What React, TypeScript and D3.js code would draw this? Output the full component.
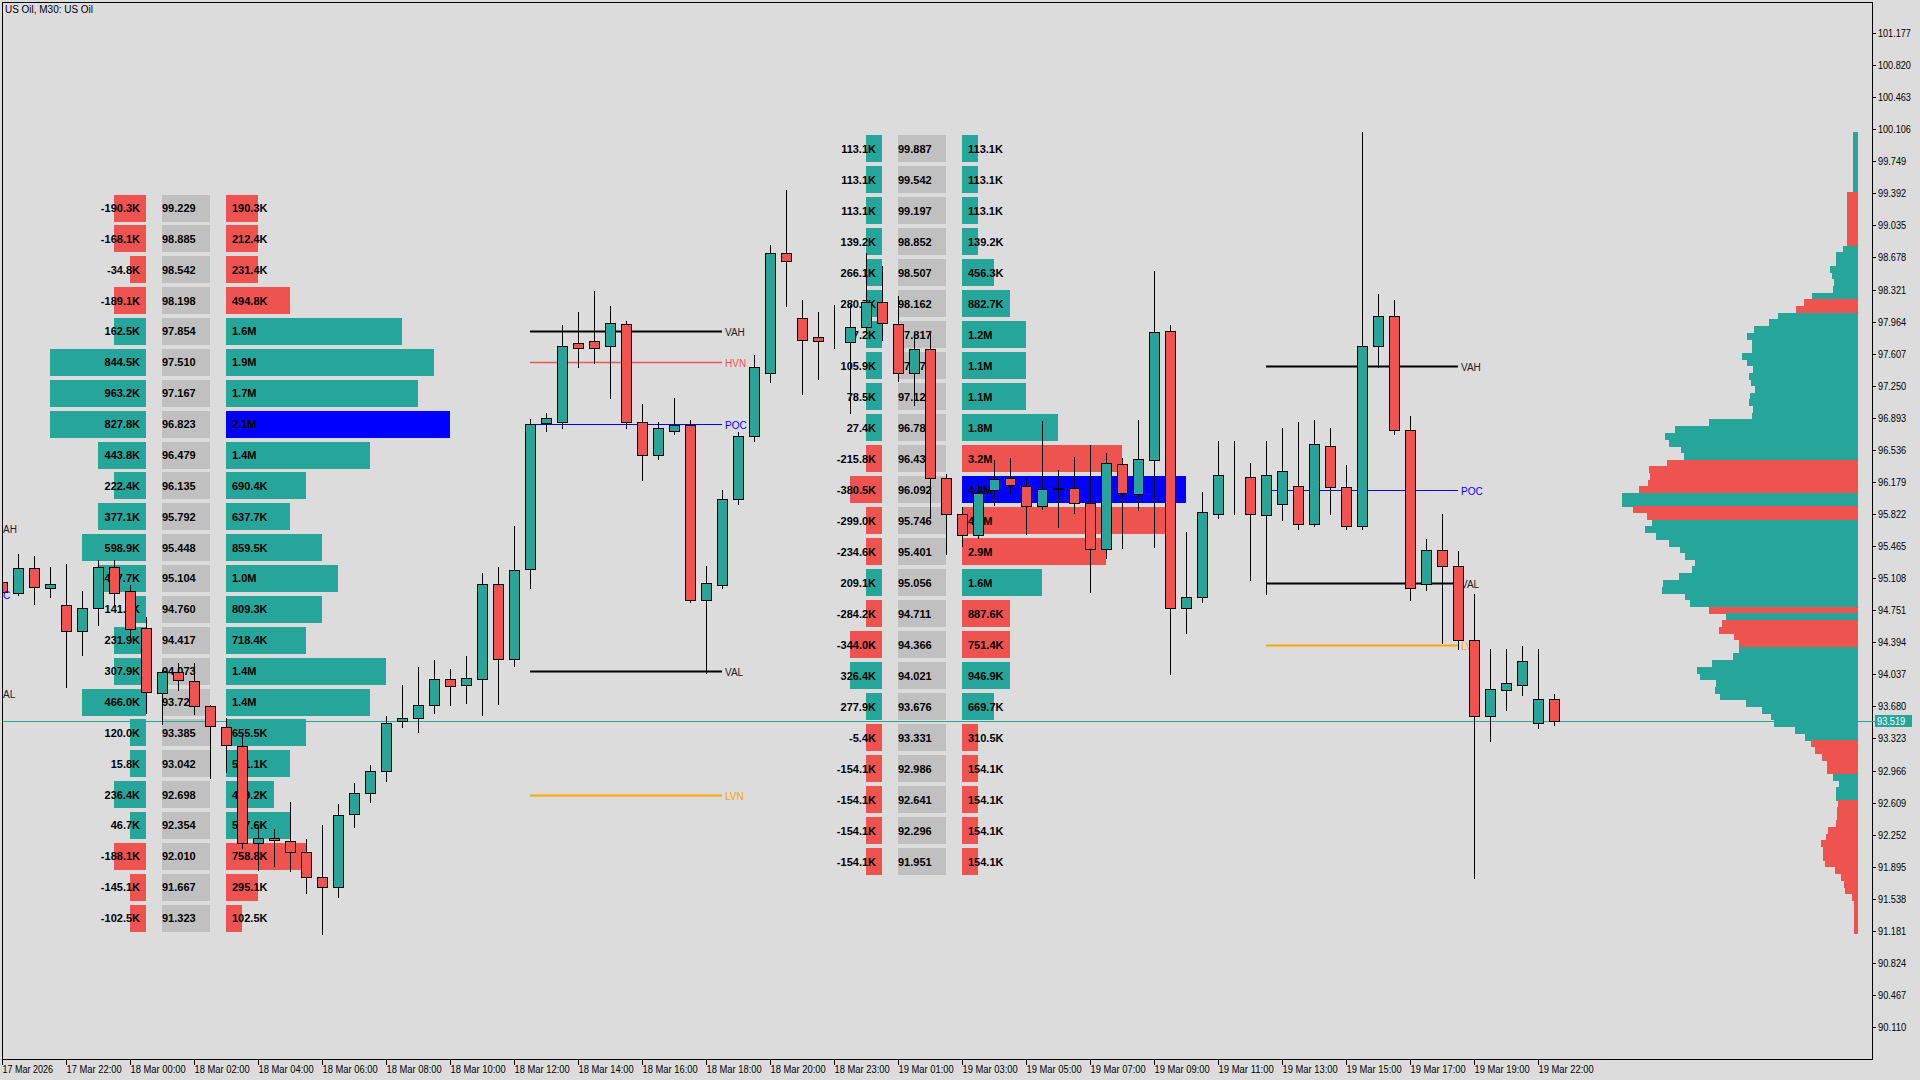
import React from 'react';
import * as d3 from 'd3';

const TEAL = '#26a69a';
const RED = '#ef5350';
const BLUE = '#0000ff';
const ORANGE = '#ffa500';
const BG = '#dcdcdc';
const GRAY = '#c0c0c0';
const FONT = '"Liberation Sans", Arial, sans-serif';

const title = 'US Oil, M30:  US Oil';

const timeLabels = [
  '17 Mar 2026', '17 Mar 22:00', '18 Mar 00:00', '18 Mar 02:00', '18 Mar 04:00', '18 Mar 06:00',
  '18 Mar 08:00', '18 Mar 10:00', '18 Mar 12:00', '18 Mar 14:00', '18 Mar 16:00', '18 Mar 18:00',
  '18 Mar 20:00', '18 Mar 23:00', '19 Mar 01:00', '19 Mar 03:00', '19 Mar 05:00', '19 Mar 07:00',
  '19 Mar 09:00', '19 Mar 11:00', '19 Mar 13:00', '19 Mar 15:00', '19 Mar 17:00', '19 Mar 19:00',
  '19 Mar 22:00',
];

const priceTicks = [
  '101.177', '100.820', '100.463', '100.106', '99.749', '99.392', '99.035', '98.678', '98.321',
  '97.964', '97.607', '97.250', '96.893', '96.536', '96.179', '95.822', '95.465', '95.108',
  '94.751', '94.394', '94.037', '93.680', '93.323', '92.966', '92.609', '92.252', '91.895',
  '91.538', '91.181', '90.824', '90.467', '90.110',
];

const lastPrice = 93.519;

// OHLC, one value per M30 bar
const open = [
  95.06, 94.946, 95.217, 94.995, 94.812, 94.515, 94.771, 95.228, 94.964, 94.549,
  93.826, 94.066, 93.966, 93.688, 93.454, 93.242, 92.156, 92.211, 92.185, 92.062,
  91.784, 91.673, 92.479, 92.712, 92.957, 93.521, 93.547, 93.692, 93.981, 93.914,
  93.988, 95.038, 94.211, 95.205, 96.83, 96.843, 97.729, 97.743, 97.688, 97.933,
  96.843, 96.475, 96.748, 96.816, 94.867, 95.03, 95.984, 96.693, 97.388, 98.724,
  98.001, 97.796, 97.735, 97.74, 97.9, 98.186, 97.933, 97.388, 97.655, 96.219,
  95.822, 95.588, 96.089, 96.219, 96.137, 95.911, 96.1, 96.108, 95.941, 95.429,
  96.375, 96.04, 96.423, 97.856, 94.772, 94.894, 95.82, 96.24, 96.23, 95.807,
  95.93, 96.134, 95.712, 96.584, 96.121, 95.685, 97.688, 98.029, 96.761, 95.044,
  95.426, 95.248, 94.417, 93.572, 93.858, 93.913, 93.49, 93.763,
];
const high = [
  95.12, 95.376, 95.354, 95.228, 95.265, 94.964, 95.309, 95.309, 95.03, 94.672,
  94.08, 94.16, 94.16, 93.69, 93.547, 93.38, 92.322, 92.316, 92.62, 92.2,
  92.36, 92.593, 92.823, 93.027, 93.573, 93.918, 94.122, 94.196, 94.096, 94.241,
  95.161, 95.228, 95.688, 96.88, 96.95, 97.93, 98.07, 98.301, 98.138, 97.974,
  97.047, 96.843, 97.115, 96.87, 95.248, 96.093, 96.734, 97.593, 98.819, 99.432,
  98.206, 98.07, 98.149, 98.149, 98.725, 98.583, 98.249, 97.834, 97.834, 96.267,
  95.9, 96.15, 96.423, 96.442, 96.207, 96.857, 96.312, 96.453, 96.59, 96.498,
  96.45, 96.868, 98.527, 97.926, 95.618, 96.07, 96.639, 96.64, 96.393, 96.639,
  96.775, 96.843, 96.87, 96.775, 96.366, 100.073, 98.274, 98.206, 96.911, 95.548,
  95.821, 95.412, 94.935, 94.322, 94.322, 94.349, 94.322, 93.817,
];
const low = [
  94.9, 94.92, 94.82, 94.901, 93.899, 94.255, 94.589, 94.82, 94.46, 93.61,
  93.48, 93.862, 93.6, 92.886, 92.953, 92.1, 91.859, 91.903, 91.85, 91.606,
  91.146, 91.554, 92.334, 92.62, 92.853, 93.447, 93.398, 93.61, 93.695, 93.721,
  93.587, 93.71, 94.129, 95.001, 96.75, 96.775, 97.456, 97.5, 97.115, 96.775,
  96.202, 96.434, 96.707, 94.839, 94.049, 95.003, 95.93, 96.639, 97.293, 98.138,
  97.156, 97.32, 97.674, 96.947, 97.834, 97.76, 97.306, 97.035, 95.79, 95.373,
  95.469, 95.55, 95.92, 96.05, 95.596, 95.88, 95.681, 95.836, 94.957, 95.329,
  95.44, 95.866, 95.458, 94.037, 94.494, 94.846, 95.78, 95.82, 95.085, 94.935,
  95.753, 95.657, 95.685, 95.821, 95.657, 95.657, 97.456, 96.707, 94.867, 94.976,
  94.39, 94.322, 91.773, 93.299, 93.64, 93.804, 93.436, 93.477,
];
const close = [
  94.95, 95.217, 95.012, 95.038, 94.515, 94.771, 95.228, 94.946, 94.545, 93.837,
  94.059, 93.974, 93.688, 93.461, 93.25, 92.156, 92.211, 92.19, 92.062, 91.784,
  91.673, 92.468, 92.712, 92.957, 93.492, 93.547, 93.695, 93.981, 93.907, 93.996,
  95.038, 94.211, 95.198, 96.829, 96.89, 97.688, 97.674, 97.674, 97.947, 96.843,
  96.475, 96.775, 96.816, 94.867, 95.058, 95.984, 96.693, 97.456, 98.724, 98.642,
  97.756, 97.748, 97.74, 97.9, 98.186, 97.945, 97.388, 97.655, 96.219, 95.822,
  95.588, 96.06, 96.207, 96.145, 95.911, 96.097, 96.11, 95.941, 95.429, 96.386,
  96.052, 96.431, 97.845, 94.772, 94.894, 95.84, 96.257, 96.245, 95.821, 96.257,
  96.298, 95.712, 96.598, 96.121, 95.685, 97.688, 98.029, 96.761, 95.003, 95.426,
  95.248, 94.417, 93.572, 93.872, 93.94, 94.185, 93.763, 93.519,
];

// Profile 1 (18 Mar)
const p1Prices = [
  99.229, 98.885, 98.542, 98.198, 97.854, 97.51, 97.167, 96.823, 96.479, 96.135, 95.792, 95.448,
  95.104, 94.76, 94.417, 94.073, 93.729, 93.385, 93.042, 92.698, 92.354, 92.01, 91.667, 91.323,
];
const p1Delta = [
  -190.3, -168.1, -34.8, -189.1, 162.5, 844.5, 963.2, 827.8, 443.8, 222.4, 377.1, 598.9,
  447.7, 141.0, 231.9, 307.9, 466.0, 120.0, 15.8, 236.4, 46.7, -188.1, -145.1, -102.5,
];
const p1Volume = [
  190.3, 212.4, 231.4, 494.8, 1600, 1900, 1700, 2100, 1360, 690.4, 637.7, 859.5,
  1000, 809.3, 718.4, 1410, 1360, 655.5, 541.1, 409.2, 547.6, 758.8, 295.1, 102.5,
];
const p1StartBar = 0;
const p1LevelNames = ['VAH', 'HVN', 'POC', 'VAL', 'LVN'];
const p1LevelPrices = [97.854, 97.51, 96.823, 94.073, 92.698];

// Profile 2 (19 Mar)
const p2Prices = [
  99.887, 99.542, 99.197, 98.852, 98.507, 98.162, 97.817, 97.472, 97.127, 96.782, 96.437, 96.092,
  95.746, 95.401, 95.056, 94.711, 94.366, 94.021, 93.676, 93.331, 92.986, 92.641, 92.296, 91.951,
];
const p2Delta = [
  113.1, 113.1, 113.1, 139.2, 266.1, 280.7, 97.2, 105.9, 78.5, 27.4, -215.8, -380.5,
  -299.0, -234.6, 209.1, -284.2, -344.0, 326.4, 277.9, -5.4, -154.1, -154.1, -154.1, -154.1,
];
const p2Volume = [
  113.1, 113.1, 113.1, 139.2, 456.3, 882.7, 1200, 1100, 1100, 1800, 3200, 4400,
  4100, 2900, 1600, 887.6, 751.4, 946.9, 669.7, 310.5, 154.1, 154.1, 154.1, 154.1,
];
const p2StartBar = 46;
const p2LevelNames = ['VAH', 'POC', 'VAL', 'LVN'];
const p2LevelPrices = [97.472, 96.092, 95.056, 94.366];

// previous session level labels, only their visible ends show at the left edge
const prevLevelTexts = ['AH', 'C', 'AL'];
const prevLevelPrices = [95.655, 94.92, 93.818];

// visible-range volume histogram, top (high) to bottom (low), 120 rows
const histVolume = [
  5, 5, 5, 5, 5, 5, 5, 5, 5,
  11, 11, 11, 11, 11, 11, 11, 11,
  15, 22, 22, 28, 26, 24, 25, 46,
  54, 62,
  80, 89, 104, 111, 106, 106, 116, 111, 105, 109, 107, 103, 108, 109, 105, 106, 149, 183, 193, 189, 177, 174,
  191, 209, 208, 210, 219,
  236, 236,
  225, 211,
  206, 213, 202, 189, 178, 173, 163, 166, 179, 195, 196, 173, 168,
  149,
  132,
  136, 139, 124, 119,
  119, 125, 146, 161, 158, 142, 143, 138, 112, 96, 87, 84, 63, 53,
  47, 43, 36, 31, 31,
  25, 19, 22, 22,
  20, 21, 21, 22, 30, 32, 37, 35, 35, 33, 23, 17, 14, 13, 6, 4, 4, 4, 4, 4,
];
const histSide = (
  'BBBBBBBBB' + 'SSSSSSSS' + 'BBBBBBBB' + 'SS' + 'BBBBBBBBBBBBBBBBBBBBBB' + 'SSSSS' + 'BB' + 'SS' +
  'BBBBBBBBBBBBB' + 'S' + 'B' + 'SSSS' + 'BBBBBBBBBBBBBB' + 'SSSSS' + 'BBBB' + 'SSSSSSSSSSSSSSSSSSSS'
).split('');

const levelColor: Record<string, string> = { VAH: '#000', VAL: '#000', POC: BLUE, HVN: RED, LVN: ORANGE };
const levelWidth: Record<string, number> = { VAH: 2, VAL: 2, POC: 1, HVN: 1.5, LVN: 2 };

const fmt = (v: number) => (Math.abs(v) >= 1000 ? (v / 1000).toFixed(1) + 'M' : v.toFixed(1) + 'K');

export default function App() {
  const plotL = 2, plotT = 2, plotR = 1872, plotB = 1060;
  const x = d3.scaleLinear().domain([0, 1]).range([2.4, 18.4]);
  const y = d3.scaleLinear().domain([89.743, 101.522]).range([plotB, plotT]);
  const bw = x(1) - x(0);

  const renderProfile = (prices: number[], delta: number[], vol: number[], s: number, key: string) => {
    const maxVol = d3.max(vol) as number;
    const poc = vol.indexOf(maxVol);
    const rowH = Math.abs(y(prices[0]) - y(prices[1])) - 4;
    const volUnits = (v: number) => Math.max(1, Math.round((v / maxVol) * 14 + 0.24));
    const dUnits = (d: number) => Math.min(6, Math.max(1, Math.ceil(Math.abs(d) / ((maxVol * 1.03) / 14))));
    const dRight = Math.round(x(s + 9));
    const gL = Math.round(x(s + 10));
    const gR = Math.round(x(s + 13));
    const vL = Math.round(x(s + 14));
    const rects: any[] = [];
    const texts: any[] = [];
    prices.forEach((p, i) => {
      const cy = y(p);
      const top = Math.round(cy - rowH / 2);
      const h = Math.round(rowH);
      const du = dUnits(delta[i]);
      const vu = volUnits(vol[i]);
      rects.push(
        <rect key={`${key}d${i}`} x={dRight - du * bw} y={top} width={du * bw} height={h} fill={delta[i] >= 0 ? TEAL : RED} />,
        <rect key={`${key}g${i}`} x={gL} y={top} width={gR - gL} height={h} fill={GRAY} />,
        <rect key={`${key}v${i}`} x={vL} y={top} width={vu * bw} height={h} fill={i === poc ? BLUE : delta[i] < 0 ? RED : TEAL} />
      );
      texts.push(
        <text key={`${key}dt${i}`} x={dRight - 6} y={cy + 4} textAnchor="end">{fmt(delta[i])}</text>,
        <text key={`${key}pt${i}`} x={gL} y={cy + 4}>{p.toFixed(3)}</text>,
        <text key={`${key}vt${i}`} x={vL + 6} y={cy + 4}>{fmt(vol[i])}</text>
      );
    });
    return { rects, texts };
  };

  const renderLevels = (names: string[], prices: number[], s: number, key: string) => {
    const x1 = Math.round(x(s + 33));
    const x2 = Math.round(x(s + 45));
    return names.map((n, i) => {
      const yy = Math.round(y(prices[i])) + 0.5;
      return (
        <g key={`${key}${i}`}>
          <line x1={x1} x2={x2} y1={yy} y2={yy} stroke={levelColor[n]} strokeWidth={levelWidth[n]} />
          <text x={x2 + 3} y={yy + 4} fill={n === 'VAH' || n === 'VAL' ? '#222' : levelColor[n]} fontSize={10} fontFamily={FONT}>{n}</text>
        </g>
      );
    });
  };

  const prof1 = renderProfile(p1Prices, p1Delta, p1Volume, p1StartBar, 'a');
  const prof2 = renderProfile(p2Prices, p2Delta, p2Volume, p2StartBar, 'b');

  const hi = d3.max(high) as number;
  const lo = d3.min(low) as number;
  const nRows = histVolume.length;
  const step = (hi - lo) / nRows;
  const histX = d3.scaleLinear().domain([0, d3.max(histVolume) as number]).range([0, 236]);
  const histRight = Math.round(x(116));

  const lastY = Math.round(y(lastPrice)) + 0.5;

  return (
    <svg width={1920} height={1080} style={{ position: 'fixed', left: 0, top: 0, display: 'block' }}>
      <defs>
        <clipPath id="plot">
          <rect x={plotL} y={plotT} width={plotR - plotL} height={plotB - plotT} />
        </clipPath>
      </defs>
      <rect x={0} y={0} width={1920} height={1080} fill={BG} />

      <g clipPath="url(#plot)">
        {/* histogram */}
        {histVolume.map((v, k) => {
          const t = y(hi - k * step);
          const b = y(hi - (k + 1) * step);
          const w = histX(v);
          return <rect key={`h${k}`} x={histRight - w} y={t} width={w} height={b - t + 0.3} fill={histSide[k] === 'B' ? TEAL : RED} shapeRendering="crispEdges" />;
        })}

        {prof1.rects}
        {prof2.rects}
        <g fontFamily={FONT} fontSize={11} fontWeight="bold" fill="#000">
          {prof1.texts}
          {prof2.texts}
        </g>

        {renderLevels(p1LevelNames, p1LevelPrices, p1StartBar, 'l1')}
        {renderLevels(p2LevelNames, p2LevelPrices, p2StartBar, 'l2')}

        <line x1={plotL} x2={plotR} y1={lastY} y2={lastY} stroke={TEAL} strokeWidth={1} />

        {/* candles */}
        {open.map((o, i) => {
          const c = close[i];
          const cx = Math.round(x(i)) + 0.5;
          const up = c >= o;
          const yTop = Math.round(y(Math.max(o, c))) + 0.5;
          const yBot = Math.round(y(Math.min(o, c))) + 0.5;
          return (
            <g key={`c${i}`}>
              <line x1={cx} x2={cx} y1={Math.round(y(high[i]))} y2={Math.round(y(low[i])) + 1} stroke="#000" strokeWidth={1} />
              <rect x={cx - 5} y={yTop} width={10} height={Math.max(0, yBot - yTop)} fill={up ? TEAL : RED} stroke="#000" strokeWidth={1} />
            </g>
          );
        })}
      </g>

      {prevLevelTexts.map((t, i) => (
        <text key={`pv${i}`} x={3} y={y(prevLevelPrices[i]) + 4} fontSize={10} fontFamily={FONT} fill={t === 'C' ? BLUE : '#222'}>{t}</text>
      ))}

      {/* frame */}
      <rect x={plotL + 0.5} y={plotT + 0.5} width={plotR - plotL} height={plotB - plotT - 1} fill="none" stroke="#000" strokeWidth={1} />

      {/* title */}
      <text x={5} y={13} fontSize={10} fontFamily={FONT} fill="#000" textLength={88} lengthAdjust="spacingAndGlyphs">{title}</text>

      {/* price axis */}
      {priceTicks.map((t) => {
        const yy = Math.round(y(+t)) + 0.5;
        return (
          <g key={`pt${t}`}>
            <line x1={plotR} x2={plotR + 4} y1={yy} y2={yy} stroke="#000" />
            <text x={plotR + 6} y={yy + 3.5} fontSize={10} fontFamily={FONT} fill="#000" textLength={t.length * 4.7} lengthAdjust="spacingAndGlyphs">{t}</text>
          </g>
        );
      })}
      <line x1={plotR} x2={plotR + 4} y1={lastY} y2={lastY} stroke={TEAL} />
      <rect x={plotR + 3} y={lastY - 6.5} width={37} height={12} fill={TEAL} />
      <text x={plotR + 5} y={lastY + 3.5} fontSize={10} fontFamily={FONT} fill="#fff" textLength={6 * 4.7} lengthAdjust="spacingAndGlyphs">{lastPrice.toFixed(3)}</text>

      {/* time axis */}
      {timeLabels.map((t, k) => {
        const xx = Math.round(x(k * 4)) + 0.5;
        return (
          <g key={`tt${k}`}>
            <line x1={xx} x2={xx} y1={plotB} y2={plotB + 5} stroke="#000" />
            <text x={xx} y={plotB + 13} fontSize={10} fontFamily={FONT} fill="#000" textLength={t.length * 4.6} lengthAdjust="spacingAndGlyphs">{t}</text>
          </g>
        );
      })}
    </svg>
  );
}
